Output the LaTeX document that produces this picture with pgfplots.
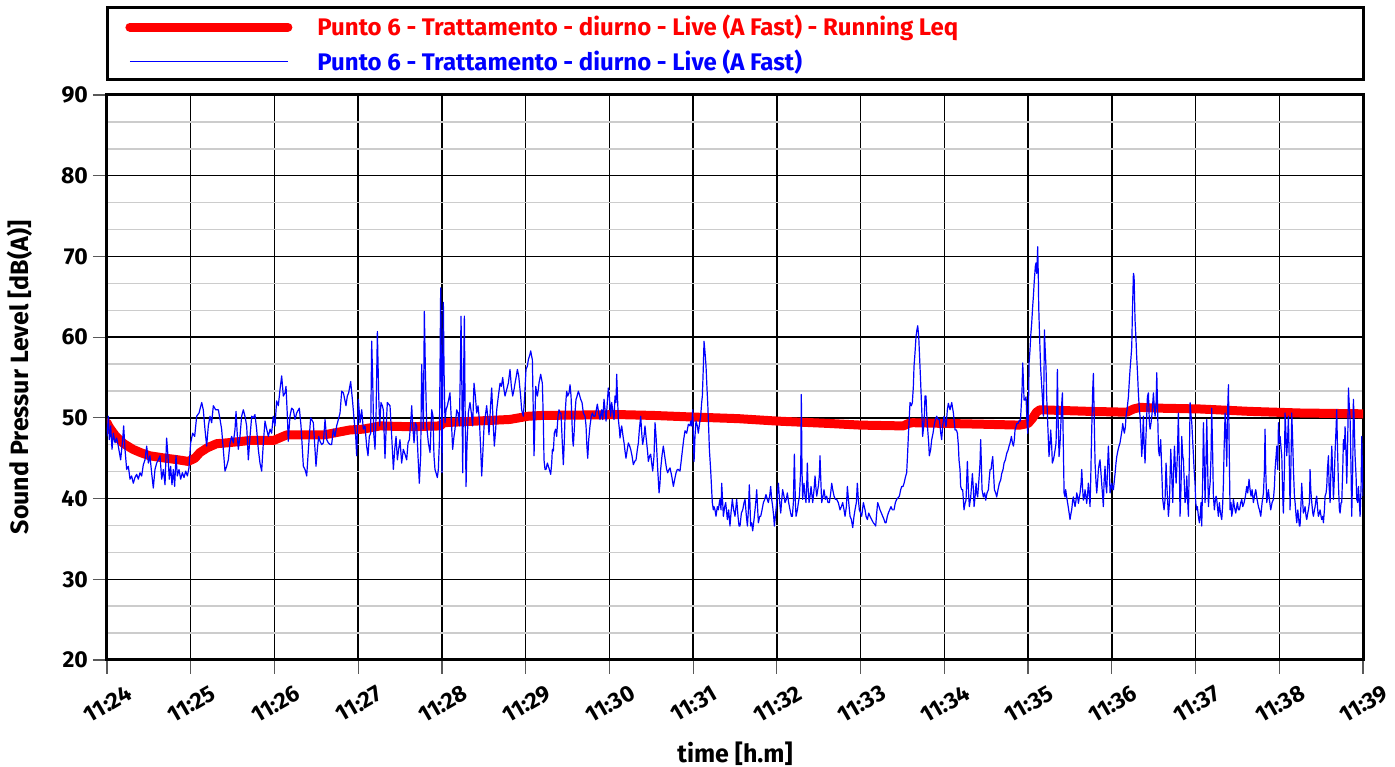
\documentclass[border=0pt]{standalone}
\usepackage{fontspec}
\setmainfont{Fira Sans}
\usepackage{pgfplots}
\pgfplotsset{compat=1.18}
\begin{document}
\begin{tikzpicture}
\begin{axis}[name=ax, width=628pt, height=282.5pt, scale only axis,
 xmin=0, xmax=15, ymin=20, ymax=90,
 xtick={0,1,...,15},
 xticklabels={11:24,11:25,11:26,11:27,11:28,11:29,11:30,11:31,11:32,11:33,11:34,11:35,11:36,11:37,11:38,11:39},
 ytick={20,30,...,90}, minor y tick num=2,
 xmajorgrids, ymajorgrids, yminorgrids,
 major grid style={black, line width=0.75pt},
 minor grid style={black!20, line width=0.7pt},
 axis line style={line width=1.5pt},
 tick align=outside, tick pos=left, major tick length=7pt, minor tick length=0pt,
 every tick/.style={black!65, line width=0.6pt},
 /pgf/number format/assume math mode=true,
 yticklabel style={font=\fontsize{11.5}{13}\selectfont\bfseries, anchor=east, xshift=1pt},
 xticklabel style={font=\fontsize{11.5}{13}\selectfont\bfseries, xshift=0.5pt, yshift=-15pt, rotate=30, anchor=center},
 xlabel={time [h.m]}, ylabel={Sound Pressur Level [dB(A)]},
 xlabel style={font=\fontsize{12.5}{14}\selectfont\bfseries, at={(axis description cs:0.5,-0.166)}, anchor=center},
 ylabel style={font=\fontsize{12.5}{14}\selectfont\bfseries, at={(axis description cs:-0.0693,0.5)}, anchor=center},
 legend image code/.code={\draw[#1] (0pt,0pt) -- (79pt,0pt);},
 legend style={draw=none, fill=none, at={(0,1)}, anchor=south west, xshift=9pt, yshift=8.5pt,
   inner sep=0pt, font=\fontsize{12}{14}\selectfont\bfseries, row sep=1.5pt,
   /tikz/every odd column/.style={column sep=10.5pt}},
 legend cell align=left,
]
\addplot[red, line width=4.5pt, line cap=round, line join=round] coordinates {
(0,49.4) (0.03,48.8) (0.1,47.8) (0.2,46.8) (0.31,46.1) (0.4,45.7) (0.51,45.3) (0.7,45.0) (0.85,44.8) (0.97,44.6) (1.05,45.0) (1.11,45.7) (1.2,46.3) (1.31,46.8) (1.43,46.9) (1.71,47.2) (1.99,47.2) (2.08,47.6) (2.15,47.9) (2.5,47.9) (2.6,47.9) (2.9,48.5) (3.06,48.6) (3.26,49.0) (3.62,48.9) (3.98,49.0) (4.02,49.4) (4.41,49.6) (4.81,49.8) (5.03,50.2) (5.2,50.3) (6.13,50.4) (6.52,50.3) (7.0,50.1) (7.54,49.9) (8.0,49.6) (8.63,49.3) (9.0,49.1) (9.51,49.0) (9.57,49.3) (9.62,49.4) (10.05,49.3) (10.5,49.2) (10.9,49.1) (11.0,49.3) (11.05,49.9) (11.1,50.7) (11.14,51.0) (11.74,50.8) (12.18,50.7) (12.26,51.1) (12.34,51.3) (12.56,51.2) (13.05,51.1) (13.65,50.8) (14.25,50.6) (15,50.5)
};
\addlegendentry{\textcolor{red}{Punto 6 - Trattamento - diurno - Live (A Fast) - Running Leq}}
\addplot[blue, line width=0.6pt, line join=round] coordinates {
(0.000,47.7) (0.016,50.2) (0.028,47.3) (0.044,49.0) (0.060,46.1) (0.076,48.1) (0.096,46.9) (0.115,47.5) (0.135,46.5) (0.163,44.8) (0.187,47.3) (0.199,49.0) (0.215,46.1) (0.235,43.6) (0.255,44.0) (0.275,42.4) (0.294,42.8) (0.314,41.9) (0.334,42.6) (0.354,43.0) (0.374,42.4) (0.394,43.2) (0.414,42.8) (0.434,44.2) (0.454,44.8) (0.474,46.5) (0.494,44.4) (0.513,45.3) (0.533,43.2) (0.553,41.3) (0.573,43.6) (0.593,44.4) (0.613,44.8) (0.633,45.3) (0.653,42.4) (0.673,43.6) (0.693,41.7) (0.712,47.5) (0.728,45.3) (0.744,42.4) (0.760,44.0) (0.776,41.7) (0.792,43.6) (0.808,41.5) (0.824,45.3) (0.840,42.8) (0.860,43.6) (0.880,42.4) (0.900,43.2) (0.920,42.6) (0.940,43.4) (0.960,42.8) (0.979,43.8) (0.999,46.9) (1.023,48.1) (1.047,47.7) (1.071,50.2) (1.099,50.6) (1.131,51.9) (1.150,51.0) (1.170,48.6) (1.190,46.5) (1.210,49.0) (1.230,50.2) (1.250,49.4) (1.270,51.5) (1.298,51.0) (1.330,51.0) (1.350,49.8) (1.369,48.6) (1.389,46.1) (1.409,43.4) (1.429,44.0) (1.449,44.8) (1.469,46.9) (1.489,47.7) (1.509,46.9) (1.529,48.6) (1.541,50.8) (1.557,47.7) (1.568,46.1) (1.588,47.7) (1.608,50.2) (1.628,51.0) (1.648,50.2) (1.668,49.0) (1.688,44.8) (1.708,47.7) (1.728,50.2) (1.748,50.0) (1.767,50.4) (1.787,48.6) (1.807,46.1) (1.827,44.4) (1.847,43.4) (1.867,46.9) (1.887,49.6) (1.907,48.6) (1.927,47.7) (1.947,48.6) (1.966,48.1) (1.986,50.2) (2.006,49.0) (2.026,52.1) (2.046,51.5) (2.066,53.5) (2.086,55.2) (2.106,52.7) (2.126,53.1) (2.138,53.9) (2.154,50.2) (2.165,47.1) (2.185,50.2) (2.205,51.2) (2.225,51.0) (2.245,49.8) (2.265,50.6) (2.297,51.2) (2.317,49.0) (2.345,44.0) (2.365,43.6) (2.385,42.8) (2.408,46.5) (2.432,50.0)
(2.444,49.8) (2.464,49.4) (2.484,46.1) (2.496,44.0) (2.512,46.1) (2.528,47.7) (2.544,47.1) (2.564,46.7) (2.584,46.9) (2.604,49.8) (2.624,47.3) (2.643,46.9) (2.663,46.7) (2.683,46.7) (2.703,48.6) (2.723,47.7) (2.743,49.0) (2.763,49.8) (2.783,50.6) (2.803,53.3) (2.823,53.1) (2.839,52.3) (2.854,51.5) (2.870,52.7) (2.886,53.1) (2.910,54.5) (2.934,51.9) (2.954,49.4) (2.970,47.7) (2.982,45.3) (3.002,52.3) (3.022,49.4) (3.042,51.0) (3.061,48.6) (3.081,49.0) (3.101,46.5) (3.117,45.3) (3.133,47.7) (3.149,48.1) (3.161,59.5) (3.173,54.8) (3.185,48.1) (3.201,46.1) (3.213,50.2) (3.229,60.7) (3.245,52.7) (3.257,49.0) (3.272,51.9) (3.288,51.5) (3.300,51.0) (3.320,45.0) (3.336,49.4) (3.348,51.9) (3.364,51.7) (3.380,51.5) (3.400,47.7) (3.420,43.6) (3.436,46.1) (3.452,47.7) (3.468,44.8) (3.483,46.1) (3.499,47.3) (3.519,44.4) (3.539,46.1) (3.559,45.5) (3.579,44.8) (3.595,46.9) (3.611,47.3) (3.627,49.4) (3.639,51.5) (3.651,49.0) (3.667,46.9) (3.683,49.4) (3.699,49.0) (3.714,45.3) (3.730,41.9) (3.746,45.3) (3.758,56.6) (3.770,51.9) (3.778,48.6) (3.790,63.2) (3.802,56.0) (3.818,49.0) (3.838,46.9) (3.858,45.7) (3.878,51.0) (3.893,50.2) (3.905,45.3) (3.917,43.6) (3.929,43.2) (3.945,42.6) (3.957,43.6) (3.969,46.9) (3.977,56.0) (3.985,66.1) (3.993,56.0) (4.001,43.2) (4.009,56.0) (4.017,64.3) (4.025,56.0) (4.037,49.4) (4.049,51.0) (4.065,51.5) (4.081,52.3) (4.096,53.1) (4.112,49.8) (4.128,46.1) (4.144,47.7) (4.156,48.6) (4.176,51.0) (4.192,50.6) (4.208,49.0) (4.220,56.0) (4.228,62.6) (4.236,56.0) (4.248,43.2) (4.260,56.0) (4.268,62.6) (4.276,51.9) (4.288,41.5) (4.300,46.9) (4.315,50.6) (4.335,51.9) (4.351,50.6) (4.367,49.0) (4.383,54.3) (4.399,52.7) (4.415,50.6) (4.431,51.5) (4.447,49.8) (4.463,46.1) (4.475,42.8) (4.487,45.3) (4.503,49.0) (4.518,50.2) (4.534,51.5) (4.550,49.8) (4.562,47.9) (4.578,51.0) (4.594,53.7) (4.610,49.8) (4.626,46.5) (4.642,48.6) (4.654,51.0) (4.674,52.7) (4.694,54.3) (4.710,53.9) (4.726,55.0) (4.741,53.5) (4.753,52.7) (4.773,53.5) (4.793,54.3) (4.813,56.0) (4.829,53.9) (4.845,52.7) (4.861,53.5) (4.873,54.3) (4.889,55.2) (4.901,56.0) (4.917,55.2) (4.925,54.3) (4.940,52.7) (4.952,51.0) (4.972,50.2) (4.988,52.7) (5.004,56.0) (5.020,56.4)
(5.032,57.2) (5.052,57.9) (5.060,58.3) (5.072,57.6) (5.080,57.2) (5.100,45.3) (5.112,50.6) (5.120,53.9) (5.132,53.1) (5.140,52.7) (5.151,53.5) (5.159,54.3) (5.179,55.4) (5.199,54.3) (5.211,49.8) (5.219,44.8) (5.231,43.6) (5.243,43.6) (5.259,44.4) (5.271,44.0) (5.283,43.6) (5.299,43.0) (5.311,44.4) (5.319,46.1) (5.331,45.9) (5.342,48.1) (5.358,48.6) (5.370,47.7) (5.386,50.2) (5.398,51.0) (5.410,50.6) (5.422,50.6) (5.434,47.7) (5.450,44.2) (5.462,47.3) (5.470,50.2) (5.482,52.3) (5.490,53.3) (5.502,52.7) (5.518,53.1) (5.530,54.1) (5.542,52.7) (5.549,50.6) (5.561,47.3) (5.569,46.5) (5.581,48.6) (5.589,50.6) (5.601,52.3) (5.609,52.5) (5.629,53.3) (5.641,52.9) (5.657,52.3) (5.673,51.9) (5.689,50.6) (5.709,50.2) (5.721,49.0) (5.729,46.9) (5.741,45.0) (5.753,47.3) (5.768,49.0) (5.784,50.2) (5.796,50.6) (5.812,50.2) (5.828,50.2) (5.844,51.0) (5.856,51.7) (5.872,50.6) (5.888,49.8) (5.900,50.6) (5.908,51.0) (5.920,49.8) (5.936,52.3) (5.948,51.0) (5.960,49.6) (5.975,51.9) (5.987,53.7) (5.999,52.7) (6.015,50.2) (6.027,51.9) (6.039,51.0) (6.055,49.8) (6.067,52.7) (6.079,51.9) (6.087,55.4) (6.099,51.9) (6.107,49.8) (6.119,48.6) (6.127,47.5) (6.139,48.6) (6.147,49.0) (6.163,47.7) (6.175,46.9) (6.186,45.9) (6.198,45.0) (6.214,46.1) (6.226,46.9) (6.242,46.5) (6.254,46.1) (6.270,45.3) (6.286,44.2) (6.302,44.6) (6.318,44.8) (6.334,46.1) (6.346,46.9) (6.358,48.6) (6.374,50.2) (6.386,48.1) (6.397,46.7) (6.413,47.7) (6.425,49.0) (6.437,47.7) (6.445,46.9) (6.457,45.7) (6.465,44.6) (6.481,45.3) (6.493,45.5) (6.505,44.4) (6.517,43.4) (6.533,45.3) (6.545,49.4) (6.557,47.7) (6.565,46.1) (6.577,43.6) (6.593,40.7) (6.604,41.9) (6.612,43.6) (6.628,45.3) (6.644,46.5) (6.660,45.3) (6.672,44.4) (6.684,43.6) (6.696,43.2) (6.712,43.6) (6.724,43.8) (6.744,42.8) (6.764,41.5) (6.780,42.4) (6.796,43.2) (6.811,43.6) (6.823,43.6) (6.843,43.4) (6.859,44.8) (6.871,45.9) (6.887,47.3) (6.903,48.4) (6.923,48.1) (6.943,49.2) (6.963,49.0) (6.971,49.6) (6.983,49.0) (6.995,51.0) (7.003,47.7) (7.011,44.6) (7.022,47.7) (7.034,49.6) (7.050,49.0) (7.062,48.1) (7.078,49.4) (7.090,50.2) (7.102,51.9) (7.110,52.7) (7.122,56.4) (7.130,59.5) (7.142,58.1) (7.154,56.4) (7.166,53.5) (7.174,51.9) (7.186,48.6) (7.194,46.1) (7.209,43.6) (7.221,41.1) (7.229,39.5) (7.241,38.6) (7.249,39.0) (7.261,38.6) (7.273,37.8) (7.289,39.0) (7.301,38.6) (7.313,39.5) (7.321,39.9) (7.333,38.6) (7.341,41.9) (7.353,39.5) (7.361,37.8) (7.377,39.0) (7.389,39.5) (7.401,38.2) (7.409,37.4) (7.424,38.6) (7.440,36.6) (7.452,38.2) (7.468,39.9) (7.484,38.6) (7.500,37.8) (7.520,39.9) (7.536,37.8) (7.548,36.6)
(7.560,36.6) (7.576,38.2) (7.592,38.6) (7.608,39.5) (7.620,39.9) (7.636,37.8) (7.648,36.6) (7.660,38.6) (7.671,41.7) (7.687,36.6) (7.699,37.0) (7.711,36.0) (7.727,37.4) (7.739,38.6) (7.751,39.9) (7.759,41.1) (7.771,38.6) (7.779,37.0) (7.795,37.8) (7.807,37.8) (7.823,38.6) (7.839,39.5) (7.855,39.9) (7.870,40.5) (7.886,39.9) (7.898,39.5) (7.914,40.3) (7.926,41.5) (7.938,39.9) (7.950,39.0) (7.962,37.8) (7.970,36.6) (7.986,38.2) (7.998,39.5) (8.010,41.1) (8.018,41.9) (8.034,39.5) (8.046,38.2) (8.058,39.9) (8.069,41.1) (8.085,40.3) (8.097,39.5) (8.113,39.9) (8.125,40.7) (8.141,39.5) (8.157,38.6) (8.173,37.8) (8.185,37.8) (8.197,39.5) (8.209,45.5) (8.221,39.5) (8.229,37.8) (8.245,38.6) (8.257,39.5) (8.269,40.3) (8.277,41.9) (8.285,43.6) (8.292,52.9) (8.300,43.6) (8.308,39.9) (8.316,41.1) (8.324,41.9) (8.336,40.3) (8.348,39.5) (8.356,41.5) (8.364,44.4) (8.372,41.5) (8.384,39.5) (8.396,40.3) (8.408,41.5) (8.420,40.3) (8.428,39.5) (8.444,41.1) (8.456,42.8) (8.468,41.1) (8.476,40.3) (8.488,41.1) (8.495,41.5) (8.507,42.8) (8.515,45.3) (8.523,42.8) (8.535,39.5) (8.551,40.3) (8.563,41.1) (8.579,39.9) (8.595,40.3) (8.611,39.5) (8.627,39.5) (8.643,40.7) (8.655,41.9) (8.667,41.1) (8.683,40.3) (8.699,39.9) (8.714,39.9) (8.734,39.5) (8.754,38.6) (8.770,39.0) (8.786,39.5) (8.802,38.6) (8.814,37.8) (8.830,39.0) (8.842,41.5) (8.858,39.5) (8.874,37.8) (8.890,37.4) (8.906,36.4) (8.921,37.8) (8.933,38.6) (8.949,39.5) (8.961,41.9) (8.973,39.9) (8.985,38.6) (9.001,38.2) (9.013,37.8) (9.033,39.5) (9.053,38.6) (9.065,37.8) (9.081,37.4) (9.097,38.2) (9.113,37.8) (9.132,37.4) (9.152,37.0) (9.168,36.8) (9.180,36.6) (9.192,38.2) (9.204,39.5) (9.220,39.0) (9.232,38.6) (9.248,38.2) (9.264,37.8) (9.280,37.4) (9.292,37.0) (9.304,37.0) (9.319,37.8) (9.331,38.2) (9.347,38.6) (9.363,39.0) (9.379,38.6) (9.399,38.6) (9.415,39.5) (9.431,39.9) (9.447,40.1) (9.463,40.3) (9.479,41.1) (9.491,41.5) (9.507,41.5) (9.519,41.9) (9.534,42.6) (9.550,43.2) (9.562,45.7) (9.570,47.7) (9.582,50.2) (9.590,51.9) (9.606,51.5) (9.618,51.9) (9.630,53.9) (9.638,56.4) (9.650,58.1) (9.662,60.1) (9.674,61.0) (9.682,61.4) (9.694,60.1) (9.702,58.1) (9.714,55.2) (9.722,53.1) (9.733,50.2) (9.741,47.7) (9.753,49.0) (9.761,50.2) (9.769,52.7) (9.781,52.7) (9.789,50.6) (9.801,48.6) (9.813,46.9) (9.821,45.3) (9.837,46.1) (9.849,47.3) (9.865,48.1) (9.877,49.0) (9.893,49.8) (9.909,50.2) (9.925,49.8) (9.941,49.8) (9.957,48.1) (9.968,47.3) (9.980,49.0) (9.996,50.2)
(10.020,48.9) (10.036,51.0) (10.048,51.8) (10.068,51.0) (10.088,51.9) (10.108,50.6) (10.128,48.5) (10.144,48.5) (10.156,48.1) (10.168,46.5) (10.175,44.8) (10.187,43.6) (10.195,41.5) (10.207,41.1) (10.219,41.1) (10.235,38.6) (10.247,39.4) (10.259,39.8) (10.275,44.6) (10.287,41.1) (10.299,39.0) (10.315,40.2) (10.327,41.9) (10.335,43.1) (10.347,41.1) (10.355,39.0) (10.367,40.2) (10.379,41.9) (10.387,40.7) (10.398,40.2) (10.410,41.9) (10.418,43.1) (10.426,44.4) (10.434,47.3) (10.442,44.4) (10.450,41.1) (10.466,40.2) (10.482,40.7) (10.494,39.8) (10.510,40.7) (10.526,41.1) (10.538,42.7) (10.546,43.6) (10.558,43.6) (10.566,44.4) (10.578,45.2) (10.590,42.7) (10.598,41.1) (10.613,40.7) (10.625,40.2) (10.641,41.1) (10.657,41.9) (10.673,42.3) (10.685,43.1) (10.701,43.6) (10.713,44.4) (10.729,44.8) (10.745,45.6) (10.761,46.0) (10.773,46.5) (10.785,46.9) (10.801,47.7) (10.813,46.9) (10.825,46.5) (10.836,47.3) (10.844,48.5) (10.856,48.9) (10.864,49.3) (10.880,49.3) (10.896,49.7) (10.908,49.6) (10.916,51.0) (10.928,53.5) (10.936,56.8) (10.944,54.7) (10.952,52.2) (10.964,52.2) (10.976,52.6) (10.984,50.2) (10.996,48.1) (11.004,50.6) (11.012,56.8) (11.023,58.4) (11.031,60.1) (11.043,61.7) (11.055,63.8) (11.063,65.0) (11.075,67.1) (11.087,68.8) (11.095,69.2) (11.103,67.9) (11.111,70.0) (11.115,71.2) (11.123,67.1) (11.127,63.8) (11.135,60.9) (11.143,58.4) (11.151,56.0) (11.163,53.9) (11.175,51.8) (11.183,50.2) (11.191,56.0) (11.195,60.9) (11.203,58.8) (11.215,56.0) (11.222,52.6) (11.230,50.6) (11.242,47.3) (11.250,45.2) (11.262,46.9) (11.270,48.5) (11.282,46.5) (11.290,44.4) (11.302,44.8) (11.310,45.2) (11.322,46.0) (11.334,46.9) (11.342,50.2) (11.350,56.0) (11.358,50.2) (11.370,45.2) (11.382,46.9) (11.390,48.9) (11.402,51.8) (11.410,53.1) (11.418,48.5) (11.430,40.7) (11.442,40.2) (11.449,41.1) (11.461,40.2) (11.473,39.4) (11.485,38.6) (11.501,37.4) (11.513,38.2) (11.521,38.6) (11.533,39.8) (11.541,40.2) (11.553,39.4) (11.561,39.0) (11.573,39.8) (11.581,40.7) (11.593,40.2) (11.601,39.4) (11.613,40.2) (11.621,40.7) (11.633,41.9) (11.641,43.6) (11.652,41.1) (11.660,39.8) (11.672,40.2) (11.680,41.1) (11.692,40.2) (11.700,39.4) (11.712,40.7) (11.720,41.9) (11.732,40.2) (11.740,39.0) (11.748,42.3) (11.760,48.5) (11.772,53.5) (11.780,55.5) (11.788,51.0) (11.800,44.4) (11.812,41.9) (11.820,40.7) (11.832,42.3) (11.840,43.6) (11.851,44.4) (11.859,44.8) (11.871,43.1) (11.879,41.9) (11.891,40.2) (11.899,39.0) (11.907,41.9) (11.919,44.0) (11.927,41.9) (11.939,40.7) (11.951,44.4) (11.959,46.5) (11.971,43.6) (11.979,40.7) (11.991,41.5) (11.999,41.9) (12.011,41.1) (12.019,41.1) (12.031,42.3) (12.039,43.1) (12.050,44.4) (12.059,45.2) (12.074,46.0) (12.086,46.5) (12.098,46.9) (12.110,47.7) (12.122,48.5) (12.130,49.3) (12.142,48.5) (12.150,48.1) (12.162,48.9) (12.170,50.2) (12.182,51.0) (12.198,52.6) (12.210,54.7) (12.218,56.0) (12.230,57.6) (12.238,58.8) (12.246,63.0) (12.258,67.9) (12.266,67.5) (12.277,62.2) (12.289,59.7) (12.297,57.6) (12.309,55.1) (12.317,53.1) (12.329,51.0) (12.337,50.2) (12.349,47.7) (12.357,45.2) (12.365,46.5) (12.377,50.2) (12.385,46.9) (12.397,44.4) (12.405,46.9) (12.417,50.2) (12.425,52.6) (12.437,53.1) (12.449,49.3)
(12.457,48.6) (12.469,49.4) (12.481,50.6) (12.497,53.1) (12.509,51.0) (12.517,50.2) (12.529,51.9) (12.537,55.6) (12.545,51.9) (12.557,46.1) (12.568,45.3) (12.584,47.3) (12.596,43.6) (12.608,39.9) (12.624,38.6) (12.636,39.9) (12.648,44.4) (12.660,41.1) (12.676,37.8) (12.688,39.5) (12.704,46.1) (12.716,42.8) (12.728,39.5) (12.736,42.8) (12.748,46.5) (12.760,43.6) (12.768,41.9) (12.783,45.3) (12.795,50.6) (12.807,43.6) (12.815,37.8) (12.827,41.5) (12.835,47.7) (12.847,45.3) (12.855,44.8) (12.867,41.5) (12.875,39.5) (12.887,40.3) (12.895,42.8) (12.907,39.5) (12.915,37.8) (12.927,45.7) (12.935,51.9) (12.947,50.2) (12.955,49.4) (12.967,46.9) (12.975,45.3) (12.983,43.6) (12.994,41.9) (13.002,39.5) (13.014,38.6) (13.022,39.0) (13.034,37.8) (13.046,37.0) (13.054,37.8) (13.066,39.5) (13.074,36.6) (13.086,42.8) (13.094,49.4) (13.106,43.6) (13.114,39.5) (13.126,45.3) (13.134,49.8) (13.142,45.3) (13.154,39.0) (13.166,41.1) (13.174,41.9) (13.185,45.3) (13.193,51.2) (13.205,45.3) (13.213,40.3) (13.225,38.6) (13.233,39.5) (13.245,40.3) (13.253,39.9) (13.265,38.6) (13.273,37.8) (13.285,39.5) (13.293,38.6) (13.305,37.8) (13.313,37.4) (13.325,39.5) (13.333,41.9) (13.341,46.1) (13.353,50.6) (13.365,46.9) (13.373,44.0) (13.381,50.2) (13.393,54.1) (13.400,47.7) (13.412,38.6) (13.424,39.5) (13.432,37.8) (13.444,38.6) (13.452,39.9) (13.464,39.0) (13.480,38.2) (13.492,39.0) (13.500,39.5) (13.512,38.6) (13.524,38.6) (13.540,39.5) (13.552,39.9) (13.564,39.0) (13.580,39.5) (13.596,40.3) (13.611,41.5) (13.623,40.7) (13.639,42.4) (13.651,41.1) (13.663,40.3) (13.675,41.1) (13.691,39.5) (13.703,40.3) (13.719,41.1) (13.735,39.9) (13.751,39.0) (13.763,38.6) (13.779,37.8) (13.795,39.5) (13.811,40.7) (13.823,43.6) (13.830,48.6) (13.838,43.6) (13.850,39.5) (13.862,40.3) (13.870,41.1) (13.882,39.9) (13.898,38.6) (13.914,39.5) (13.930,39.9) (13.942,41.5) (13.950,43.6) (13.962,45.3) (13.970,46.5) (13.982,43.6) (13.990,49.4) (14.002,46.9) (14.010,47.7) (14.022,46.1) (14.030,45.3) (14.041,40.3) (14.049,38.2) (14.061,43.6) (14.069,50.6) (14.081,47.7) (14.089,45.3) (14.101,47.7) (14.109,50.2) (14.121,43.6) (14.129,38.6) (14.141,45.3) (14.149,50.6) (14.161,46.9) (14.169,43.6) (14.181,40.3) (14.189,39.5) (14.201,37.8) (14.209,37.0) (14.221,38.6) (14.229,37.8) (14.240,36.6) (14.248,36.6) (14.260,39.5) (14.268,41.9) (14.280,39.5) (14.288,38.2) (14.300,38.6) (14.308,39.0) (14.320,37.8) (14.328,37.4) (14.340,38.2) (14.348,38.6) (14.360,39.5) (14.368,43.6) (14.376,41.1) (14.388,39.5) (14.400,38.2) (14.408,37.8) (14.420,38.6) (14.428,39.0) (14.439,39.9) (14.447,40.3) (14.459,38.6) (14.467,37.8) (14.479,38.2) (14.487,38.6) (14.499,37.8) (14.507,37.4) (14.519,37.8) (14.527,37.0) (14.539,38.6) (14.547,40.3) (14.559,40.7) (14.567,41.5) (14.575,43.6) (14.587,45.3) (14.595,41.5) (14.607,39.5) (14.615,42.8) (14.627,46.5) (14.639,42.8) (14.647,39.9) (14.658,42.8) (14.666,45.7) (14.678,48.6) (14.686,51.0) (14.694,46.9) (14.706,41.9) (14.718,38.6) (14.726,38.2) (14.738,39.5) (14.746,39.5) (14.758,43.6) (14.766,47.3) (14.778,46.1) (14.786,48.9) (14.798,45.3) (14.806,41.9) (14.818,47.7) (14.826,53.7) (14.834,51.9) (14.846,49.8) (14.857,43.6) (14.865,37.8) (14.877,43.6) (14.885,52.3) (14.893,50.2) (14.905,45.3) (14.917,42.8) (14.925,39.9) (14.937,39.5) (14.945,41.5) (14.957,39.5) (14.965,37.8) (14.977,41.5) (14.985,47.7) (14.993,43.6) (15.000,40.3)
};
\addlegendentry{\textcolor{blue}{Punto 6 - Trattamento - diurno - Live (A Fast)}}
\end{axis}
\draw[line width=1.5pt] ([yshift=7.5pt]ax.north west) rectangle ([yshift=43.5pt]ax.north east);
\pgfresetboundingbox
\useasboundingbox ([xshift=-53.5pt,yshift=-53.5pt]ax.south west) rectangle ([xshift=16pt,yshift=47.5pt]ax.north east);
\end{tikzpicture}
\end{document}
